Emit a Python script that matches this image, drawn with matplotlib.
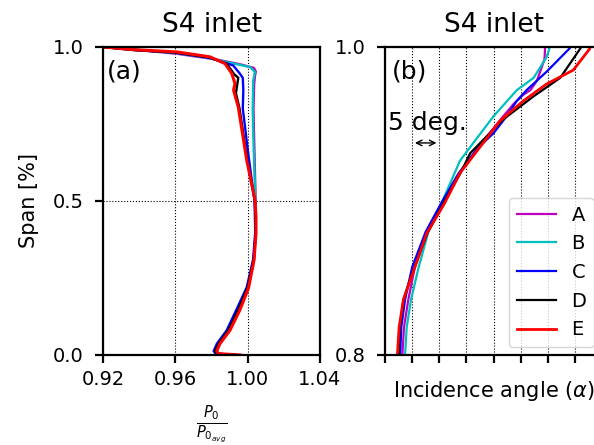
import matplotlib
matplotlib.use("Agg")
import matplotlib.pyplot as plt

# ---- (a) total pressure ratio vs span ----
p_span_A = [1.0, 0.99, 0.978, 0.96, 0.945, 0.932, 0.92, 0.905, 0.88, 0.80, 0.72, 0.60, 0.50, 0.40, 0.31, 0.22, 0.15, 0.08, 0.037, 0.013, 0.004, 0.0]
p_val_A = [0.92, 0.940, 0.961, 0.982, 0.995, 1.0035, 1.0045, 1.0040, 1.0036, 1.0032, 1.0035, 1.0040, 1.0044, 1.0045, 1.0035, 1.0004, 0.9955, 0.9900, 0.9845, 0.9826, 0.9836, 0.994]
p_span_B = [1.0, 0.99, 0.98, 0.965, 0.951, 0.935, 0.919, 0.892, 0.80, 0.719, 0.60, 0.556, 0.50, 0.40, 0.31, 0.22, 0.15, 0.08, 0.037, 0.013, 0.004, 0.0]
p_val_B = [0.92, 0.941, 0.961, 0.978, 0.9884, 1.0013, 1.0040, 1.0031, 1.0028, 1.0031, 1.0037, 1.0040, 1.0043, 1.0045, 1.0035, 1.0003, 0.9953, 0.9897, 0.9842, 0.9824, 0.9834, 0.994]
p_span_C = [1.0, 0.99, 0.982, 0.965, 0.94, 0.915, 0.90, 0.86, 0.80, 0.65, 0.50, 0.40, 0.31, 0.22, 0.15, 0.08, 0.037, 0.013, 0.004, 0.0]
p_val_C = [0.92, 0.938, 0.960, 0.979, 0.992, 0.9955, 0.9973, 0.9976, 0.9973, 1.0004, 1.0038, 1.0042, 1.0030, 0.9995, 0.9940, 0.9884, 0.9830, 0.9812, 0.9822, 0.993]
p_span_D = [1.0, 0.99, 0.982, 0.966, 0.945, 0.912, 0.90, 0.85, 0.80, 0.63, 0.50, 0.40, 0.31, 0.22, 0.15, 0.08, 0.037, 0.013, 0.004, 0.0]
p_val_D = [0.92, 0.937, 0.960, 0.979, 0.9885, 0.9925, 0.9948, 0.9935, 0.9955, 0.9998, 1.0040, 1.0045, 1.0033, 1.0000, 0.9950, 0.9893, 0.9838, 0.9820, 0.9830, 0.994]
p_span_E = [1.0, 0.9915, 0.984, 0.968, 0.946, 0.914, 0.881, 0.86, 0.843, 0.805, 0.632, 0.502, 0.448, 0.394, 0.307, 0.216, 0.145, 0.080, 0.037, 0.013, 0.0045, 0.0]
p_val_E = [0.92, 0.9368, 0.9608, 0.9792, 0.9875, 0.9912, 0.9930, 0.9922, 0.9930, 0.9948, 0.9995, 1.0041, 1.0046, 1.0046, 1.0035, 1.0004, 0.9956, 0.9902, 0.9847, 0.9829, 0.9838, 0.9958]

# ---- (b) incidence angle vs span (deg) ----
i_span_A = [0.8, 0.818, 0.836, 0.857, 0.88, 0.90, 0.918, 0.935, 0.955, 0.963, 0.969, 0.972, 0.978, 0.992, 0.999]
i_val_A = [3.2, 3.5, 4.3, 5.5, 7.6, 10.6, 13.6, 17.2, 21.8, 23.7, 25.5, 26.8, 28.0, 29.4, 29.5]
i_span_B = [0.8, 0.818, 0.836, 0.857, 0.88, 0.90, 0.926, 0.935, 0.955, 0.972, 0.98, 0.9935, 0.999]
i_val_B = [3.7, 4.0, 4.8, 6.2, 8.0, 10.6, 13.8, 15.7, 20.0, 24.3, 27.4, 29.8, 30.3]
i_span_C = [0.8, 0.818, 0.836, 0.857, 0.88, 0.90, 0.918, 0.935, 0.944, 0.955, 0.965, 0.972, 0.984, 0.999]
i_val_C = [2.8, 3.0, 3.7, 5.0, 7.5, 10.6, 13.6, 17.3, 20.0, 22.4, 24.3, 26.1, 29.8, 34.0]
i_span_D = [0.8, 0.818, 0.836, 0.848, 0.879, 0.90, 0.918, 0.931, 0.953, 0.968, 0.98, 0.999]
i_val_D = [2.5, 2.7, 3.4, 4.5, 7.8, 11.0, 13.9, 15.7, 21.8, 27.4, 32.3, 36.0]
i_span_E = [0.801, 0.818, 0.836, 0.848, 0.879, 0.898, 0.918, 0.935, 0.952, 0.965, 0.976, 0.985, 0.9987]
i_val_E = [2.3, 2.6, 3.4, 4.6, 7.7, 10.9, 13.8, 17.5, 21.2, 25.5, 29.8, 34.7, 37.7]

labels = ["A", "B", "C", "D", "E"]
colors = ["m", "c", "b", "k", "r"]

fig = plt.figure(figsize=(5.94, 4.45), dpi=100)
ax1 = fig.add_axes([103 / 594, 90 / 445, 217 / 594, 308 / 445])
ax2 = fig.add_axes([385 / 594, 90 / 445, 217 / 594, 308 / 445])

p_data = [(p_val_A, p_span_A), (p_val_B, p_span_B), (p_val_C, p_span_C), (p_val_D, p_span_D), (p_val_E, p_span_E)]
i_data = [(i_val_A, i_span_A), (i_val_B, i_span_B), (i_val_C, i_span_C), (i_val_D, i_span_D), (i_val_E, i_span_E)]

for (x, y), c, lab in zip(p_data, colors, labels):
    ax1.plot(x, y, color=c, lw=2.2 if c == "r" else 1.7, label=lab)
for (x, y), c, lab in zip(i_data, colors, labels):
    ax2.plot(x, y, color=c, lw=2.0 if c == "r" else 1.6, label=lab)

for ax in (ax1, ax2):
    for s in ax.spines.values():
        s.set_linewidth(1.6)
    ax.tick_params(width=1.6, length=6, pad=8, labelsize=14)
    ax.set_title("S4 inlet", fontsize=19, pad=11)

ax1.set_xlim(0.92, 1.04)
ax1.set_ylim(0.0, 1.0)
ax1.set_xticks([0.92, 0.96, 1.00, 1.04])
ax1.set_xticklabels(["0.92", "0.96", "1.00", "1.04"])
ax1.tick_params(axis="x", pad=5)
ax1.set_yticks([0.0, 0.5, 1.0])
ax1.grid(True, color="k", ls=":", lw=0.8)
ax1.set_ylabel("Span [%]", fontsize=15, labelpad=10)
ax1.set_xlabel(r"$\frac{P_0}{P_{0_{avg}}}$", fontsize=15, labelpad=10)
ax1.text(0.02, 0.92, "(a)", transform=ax1.transAxes, fontsize=18, va="center")

ax2.set_xlim(0, 40)
ax2.set_ylim(0.8, 1.0)
ax2.set_xticks(range(0, 41, 5))
ax2.set_xticklabels([])
ax2.set_yticks([0.8, 1.0])
ax2.grid(True, axis="x", color="k", ls=":", lw=0.8)
ax2.set_xlabel(r"Incidence angle ($\alpha$)", fontsize=15, labelpad=3)
ax2.text(0.03, 0.92, "(b)", transform=ax2.transAxes, fontsize=18, va="center")
ax2.annotate("", xy=(5, 0.9377), xytext=(10, 0.9377),
             arrowprops=dict(arrowstyle="<->", color="k", lw=1))
ax2.text(0.5, 0.9505, "5 deg.", fontsize=18, va="center", ha="left")
ax2.legend(loc="lower right", fontsize=14, handlelength=2.0, borderaxespad=0.4)

fig.savefig("out.png", dpi=100)
